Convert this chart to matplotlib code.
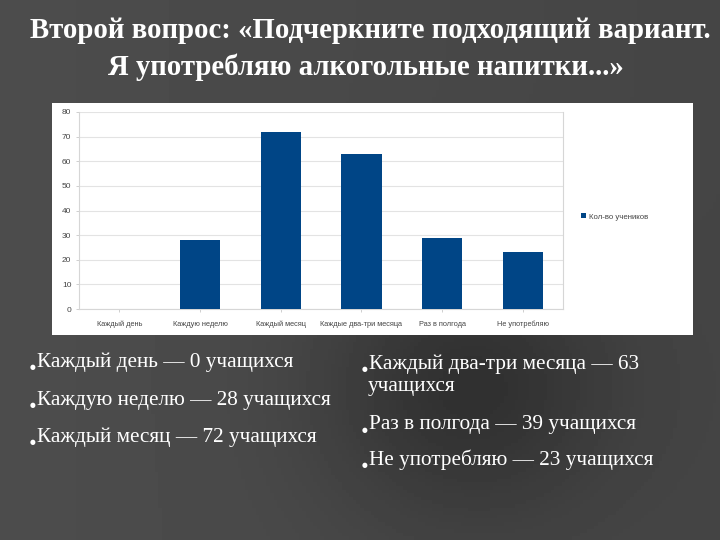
import matplotlib
matplotlib.use("Agg")
import matplotlib.pyplot as plt
import numpy as np
from matplotlib.patches import Rectangle, Patch

# ---- data ----
categories = ["Каждый день", "Каждую неделю", "Каждый месяц",
              "Каждые два-три месяца", "Раз в полгода", "Не употребляю"]
bar_values = [0, 28, 72, 63, 29, 23]
series_name = "Кол-во учеников"
y_ticks = [0, 10, 20, 30, 40, 50, 60, 70, 80]

title_lines = ["Второй вопрос: «Подчеркните подходящий вариант.",
               "Я употребляю алкогольные напитки...»"]
left_items = ["Каждый день — 0 учащихся",
              "Каждую неделю — 28 учащихся",
              "Каждый месяц — 72 учащихся"]
right_items = [["Каждый два-три месяца — 63", "учащихся"],
               ["Раз в полгода — 39 учащихся"],
               ["Не употребляю — 23 учащихся"]]

W, H = 720, 540
fig = plt.figure(figsize=(7.2, 5.4), dpi=100)

# ---- background (dark wood-like gradient) ----
bg = fig.add_axes([0, 0, 1, 1], zorder=-10)
gx = np.linspace(0, 1, 200)
gy = np.linspace(0, 1, 150)
X, Y = np.meshgrid(gx, gy)
shade = 0.27 - 0.09 * np.exp(-((X - 0.65) ** 2 / 0.04 + (Y - 0.72) ** 2 / 0.06)) + 0.03 * (1 - X)
bg.imshow(shade, cmap="gray", vmin=0, vmax=1, extent=[0, 1, 0, 1], aspect="auto", origin="upper")
bg.set_axis_off()

def fx(px):
    return px / W

def fy(py):
    return 1 - py / H

# ---- white chart panel ----
fig.patches.append(Rectangle((fx(52), fy(335)), (693 - 52) / W, (335 - 103) / H,
                             transform=fig.transFigure, facecolor="white",
                             edgecolor="none", zorder=0))

ax = fig.add_axes([fx(79), fy(309), (563 - 79) / W, (309 - 112) / H], zorder=2)
x = np.arange(len(categories))
ax.bar(x, bar_values, width=0.5, color="#004586", zorder=3, label=series_name)
ax.set_xlim(-0.5, len(categories) - 0.5)
ax.set_ylim(0, 80)
ax.set_yticks(y_ticks)
ax.set_xticks(x)
ax.set_xticklabels(categories, family="Liberation Sans", fontsize=5.3)
ax.set_yticklabels([str(v) for v in y_ticks], family="Liberation Sans", fontsize=6)
ax.yaxis.grid(True, color="#e3e3e3", linewidth=0.8, zorder=0)
ax.set_axisbelow(True)
for s in ax.spines.values():
    s.set_color("#d6d6d6")
    s.set_linewidth(0.8)
ax.spines["top"].set_visible(False)
ax.tick_params(axis="both", labelcolor="#444444", color="#cfcfcf",
               length=2.5, width=0.7)
ax.tick_params(axis="x", pad=6)
ax.tick_params(axis="y", pad=3)

leg = ax.legend(handles=[Patch(facecolor="#004586", label=series_name)],
                loc="center left", bbox_to_anchor=(fx(578), fy(217)),
                bbox_transform=fig.transFigure, frameon=False,
                prop={"family": "Liberation Sans", "size": 5.6},
                handlelength=0.6, handleheight=0.6,
                handletextpad=0.4, borderaxespad=0)
for t in leg.get_texts():
    t.set_color("#444444")

# ---- title ----
fig.text(fx(370), fy(31), title_lines[0], ha="center", va="center", color="white",
         fontsize=20.7, fontweight="bold", family="Liberation Serif")
fig.text(fx(366), fy(67), title_lines[1], ha="center", va="center", color="white",
         fontsize=20.7, fontweight="bold", family="Liberation Serif")

# ---- bullet texts ----
FS = 15.3

def bullet(xb, yb, text):
    fig.text(fx(xb), fy(yb + 7), "●", ha="left", va="baseline", color="white",
             fontsize=4.8, family="DejaVu Sans")
    fig.text(fx(xb + 7), fy(yb), text, ha="left", va="center", color="white",
             fontsize=FS, family="Liberation Serif")

left_y = [362, 400, 437]
for yy, txt in zip(left_y, left_items):
    bullet(30, yy, txt)

right_y = [[364, 387], [425], [460]]
for ys, lines in zip(right_y, right_items):
    bullet(362, ys[0], lines[0])
    for yy, ln in zip(ys[1:], lines[1:]):
        fig.text(fx(368), fy(yy), ln, ha="left", va="center", color="white",
                 fontsize=FS, family="Liberation Serif")

fig.savefig("out.png", dpi=100)
